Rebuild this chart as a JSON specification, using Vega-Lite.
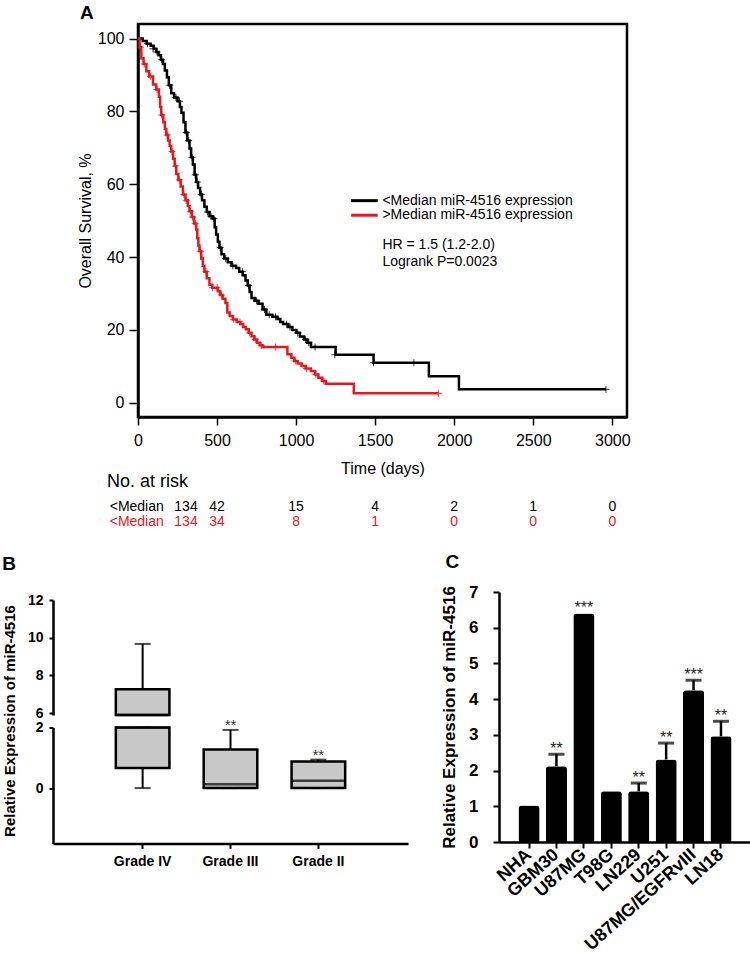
{
  "$schema": "https://vega.github.io/schema/vega-lite/v6.json",
  "padding": {"left": 2, "top": 2, "right": 0, "bottom": 0},
  "background": "white",
  "config": {"font": "Liberation Sans", "view": {"stroke": null}, "axis": {"labelOverlap": false, "labelFlush": false}},
  "datasets": {
    "surv": [
      {"grp": "<Median", "day": 0, "surv": 100}, {"grp": "<Median", "day": 30, "surv": 99.3}, {"grp": "<Median", "day": 55, "surv": 98.6}, {"grp": "<Median", "day": 80, "surv": 98.0}, {"grp": "<Median", "day": 100, "surv": 97.2}, {"grp": "<Median", "day": 116, "surv": 96.3}, {"grp": "<Median", "day": 130, "surv": 95.4}, {"grp": "<Median", "day": 145, "surv": 94.2}, {"grp": "<Median", "day": 158, "surv": 93.0}, {"grp": "<Median", "day": 170, "surv": 91.2}, {"grp": "<Median", "day": 183, "surv": 89.4}, {"grp": "<Median", "day": 195, "surv": 87.2}, {"grp": "<Median", "day": 210, "surv": 85.0}, {"grp": "<Median", "day": 228, "surv": 83.8}, {"grp": "<Median", "day": 250, "surv": 82.8}, {"grp": "<Median", "day": 265, "surv": 81.2}, {"grp": "<Median", "day": 275, "surv": 79.6}, {"grp": "<Median", "day": 288, "surv": 77.0}, {"grp": "<Median", "day": 300, "surv": 74.2}, {"grp": "<Median", "day": 312, "surv": 72.0}, {"grp": "<Median", "day": 326, "surv": 69.8}, {"grp": "<Median", "day": 336, "surv": 67.4}, {"grp": "<Median", "day": 347, "surv": 65.4}, {"grp": "<Median", "day": 358, "surv": 62.6}, {"grp": "<Median", "day": 368, "surv": 60.6}, {"grp": "<Median", "day": 380, "surv": 59.0}, {"grp": "<Median", "day": 393, "surv": 57.2}, {"grp": "<Median", "day": 405, "surv": 55.6}, {"grp": "<Median", "day": 420, "surv": 53.8}, {"grp": "<Median", "day": 435, "surv": 52.4}, {"grp": "<Median", "day": 452, "surv": 51.2}, {"grp": "<Median", "day": 473, "surv": 50.6}, {"grp": "<Median", "day": 485, "surv": 48.2}, {"grp": "<Median", "day": 494, "surv": 46.2}, {"grp": "<Median", "day": 505, "surv": 44.2}, {"grp": "<Median", "day": 515, "surv": 42.6}, {"grp": "<Median", "day": 528, "surv": 40.8}, {"grp": "<Median", "day": 545, "surv": 39.6}, {"grp": "<Median", "day": 568, "surv": 38.6}, {"grp": "<Median", "day": 592, "surv": 37.6}, {"grp": "<Median", "day": 620, "surv": 37.0}, {"grp": "<Median", "day": 640, "surv": 36.0}, {"grp": "<Median", "day": 662, "surv": 35.0}, {"grp": "<Median", "day": 680, "surv": 33.6}, {"grp": "<Median", "day": 694, "surv": 32.2}, {"grp": "<Median", "day": 706, "surv": 30.4}, {"grp": "<Median", "day": 718, "surv": 28.8}, {"grp": "<Median", "day": 738, "surv": 28.0}, {"grp": "<Median", "day": 762, "surv": 27.2}, {"grp": "<Median", "day": 788, "surv": 25.6}, {"grp": "<Median", "day": 812, "surv": 24.2}, {"grp": "<Median", "day": 850, "surv": 23.6}, {"grp": "<Median", "day": 882, "surv": 23.0}, {"grp": "<Median", "day": 900, "surv": 22.2}, {"grp": "<Median", "day": 918, "surv": 21.6}, {"grp": "<Median", "day": 950, "surv": 20.8}, {"grp": "<Median", "day": 976, "surv": 20.0}, {"grp": "<Median", "day": 1000, "surv": 19.2}, {"grp": "<Median", "day": 1024, "surv": 18.2}, {"grp": "<Median", "day": 1050, "surv": 17.4}, {"grp": "<Median", "day": 1071, "surv": 16.5}, {"grp": "<Median", "day": 1094, "surv": 15.3}, {"grp": "<Median", "day": 1250, "surv": 13.2}, {"grp": "<Median", "day": 1490, "surv": 11.0}, {"grp": "<Median", "day": 1840, "surv": 7.3}, {"grp": "<Median", "day": 2030, "surv": 3.7}, {"grp": "<Median", "day": 2960, "surv": 3.7},
      {"grp": ">Median", "day": 0, "surv": 100}, {"grp": ">Median", "day": 10, "surv": 97.6}, {"grp": ">Median", "day": 21, "surv": 94.6}, {"grp": ">Median", "day": 35, "surv": 93.0}, {"grp": ">Median", "day": 53, "surv": 91.0}, {"grp": ">Median", "day": 70, "surv": 89.6}, {"grp": ">Median", "day": 95, "surv": 87.4}, {"grp": ">Median", "day": 115, "surv": 86.0}, {"grp": ">Median", "day": 132, "surv": 84.0}, {"grp": ">Median", "day": 140, "surv": 81.2}, {"grp": ">Median", "day": 147, "surv": 79.0}, {"grp": ">Median", "day": 160, "surv": 77.0}, {"grp": ">Median", "day": 170, "surv": 75.2}, {"grp": ">Median", "day": 179, "surv": 73.5}, {"grp": ">Median", "day": 190, "surv": 72.0}, {"grp": ">Median", "day": 200, "surv": 70.6}, {"grp": ">Median", "day": 210, "surv": 69.0}, {"grp": ">Median", "day": 222, "surv": 67.0}, {"grp": ">Median", "day": 232, "surv": 65.0}, {"grp": ">Median", "day": 242, "surv": 62.8}, {"grp": ">Median", "day": 255, "surv": 61.2}, {"grp": ">Median", "day": 270, "surv": 59.4}, {"grp": ">Median", "day": 284, "surv": 57.2}, {"grp": ">Median", "day": 300, "surv": 55.6}, {"grp": ">Median", "day": 315, "surv": 54.0}, {"grp": ">Median", "day": 326, "surv": 52.6}, {"grp": ">Median", "day": 340, "surv": 51.0}, {"grp": ">Median", "day": 355, "surv": 49.2}, {"grp": ">Median", "day": 368, "surv": 47.6}, {"grp": ">Median", "day": 375, "surv": 45.2}, {"grp": ">Median", "day": 382, "surv": 43.2}, {"grp": ">Median", "day": 389, "surv": 41.6}, {"grp": ">Median", "day": 400, "surv": 39.6}, {"grp": ">Median", "day": 410, "surv": 37.6}, {"grp": ">Median", "day": 420, "surv": 36.0}, {"grp": ">Median", "day": 435, "surv": 34.2}, {"grp": ">Median", "day": 452, "surv": 32.4}, {"grp": ">Median", "day": 470, "surv": 31.6}, {"grp": ">Median", "day": 505, "surv": 30.6}, {"grp": ">Median", "day": 520, "surv": 29.6}, {"grp": ">Median", "day": 536, "surv": 28.6}, {"grp": ">Median", "day": 553, "surv": 27.4}, {"grp": ">Median", "day": 565, "surv": 24.8}, {"grp": ">Median", "day": 580, "surv": 23.8}, {"grp": ">Median", "day": 600, "surv": 22.9}, {"grp": ">Median", "day": 625, "surv": 22.2}, {"grp": ">Median", "day": 647, "surv": 21.6}, {"grp": ">Median", "day": 665, "surv": 20.8}, {"grp": ">Median", "day": 682, "surv": 20.2}, {"grp": ">Median", "day": 700, "surv": 19.2}, {"grp": ">Median", "day": 718, "surv": 18.3}, {"grp": ">Median", "day": 735, "surv": 17.4}, {"grp": ">Median", "day": 753, "surv": 16.5}, {"grp": ">Median", "day": 770, "surv": 15.8}, {"grp": ">Median", "day": 788, "surv": 15.3}, {"grp": ">Median", "day": 945, "surv": 13.3}, {"grp": ">Median", "day": 970, "surv": 12.4}, {"grp": ">Median", "day": 988, "surv": 11.5}, {"grp": ">Median", "day": 1010, "surv": 10.8}, {"grp": ">Median", "day": 1035, "surv": 10.1}, {"grp": ">Median", "day": 1060, "surv": 9.4}, {"grp": ">Median", "day": 1094, "surv": 8.7}, {"grp": ">Median", "day": 1120, "surv": 7.8}, {"grp": ">Median", "day": 1141, "surv": 6.9}, {"grp": ">Median", "day": 1165, "surv": 6.0}, {"grp": ">Median", "day": 1188, "surv": 5.2}, {"grp": ">Median", "day": 1365, "surv": 2.6}, {"grp": ">Median", "day": 1900, "surv": 2.6}
    ],
    "censor": [
      {"grp": "<Median", "day": 60, "surv": 98.6}, {"grp": "<Median", "day": 95, "surv": 97.2}, {"grp": "<Median", "day": 120, "surv": 96.3}, {"grp": "<Median", "day": 150, "surv": 94.2}, {"grp": "<Median", "day": 200, "surv": 87.2}, {"grp": "<Median", "day": 240, "surv": 83.8}, {"grp": "<Median", "day": 262, "surv": 82.8}, {"grp": "<Median", "day": 305, "surv": 74.2}, {"grp": "<Median", "day": 320, "surv": 72.0}, {"grp": "<Median", "day": 342, "surv": 67.4}, {"grp": "<Median", "day": 362, "surv": 62.6}, {"grp": "<Median", "day": 375, "surv": 60.6}, {"grp": "<Median", "day": 400, "surv": 57.2}, {"grp": "<Median", "day": 440, "surv": 52.4}, {"grp": "<Median", "day": 462, "surv": 51.2}, {"grp": "<Median", "day": 480, "surv": 50.6}, {"grp": "<Median", "day": 520, "surv": 42.6}, {"grp": "<Median", "day": 555, "surv": 39.6}, {"grp": "<Median", "day": 600, "surv": 37.6}, {"grp": "<Median", "day": 660, "surv": 36.0}, {"grp": "<Median", "day": 700, "surv": 32.2}, {"grp": "<Median", "day": 750, "surv": 28.0}, {"grp": "<Median", "day": 800, "surv": 25.6}, {"grp": "<Median", "day": 830, "surv": 24.2}, {"grp": "<Median", "day": 870, "surv": 23.6}, {"grp": "<Median", "day": 940, "surv": 21.6}, {"grp": "<Median", "day": 962, "surv": 20.8}, {"grp": "<Median", "day": 1010, "surv": 19.2}, {"grp": "<Median", "day": 1060, "surv": 17.4}, {"grp": "<Median", "day": 1080, "surv": 16.5}, {"grp": "<Median", "day": 1120, "surv": 15.3}, {"grp": "<Median", "day": 1245, "surv": 13.2}, {"grp": "<Median", "day": 1490, "surv": 11.0}, {"grp": "<Median", "day": 1745, "surv": 11.0}, {"grp": "<Median", "day": 2960, "surv": 3.7},
      {"grp": ">Median", "day": 15, "surv": 97.6}, {"grp": ">Median", "day": 40, "surv": 93.0}, {"grp": ">Median", "day": 80, "surv": 89.6}, {"grp": ">Median", "day": 120, "surv": 86.0}, {"grp": ">Median", "day": 150, "surv": 79.0}, {"grp": ">Median", "day": 185, "surv": 73.5}, {"grp": ">Median", "day": 215, "surv": 69.0}, {"grp": ">Median", "day": 238, "surv": 65.0}, {"grp": ">Median", "day": 262, "surv": 61.2}, {"grp": ">Median", "day": 290, "surv": 57.2}, {"grp": ">Median", "day": 305, "surv": 55.6}, {"grp": ">Median", "day": 332, "surv": 52.6}, {"grp": ">Median", "day": 345, "surv": 51.0}, {"grp": ">Median", "day": 362, "surv": 49.2}, {"grp": ">Median", "day": 395, "surv": 41.6}, {"grp": ">Median", "day": 430, "surv": 36.0}, {"grp": ">Median", "day": 472, "surv": 31.6}, {"grp": ">Median", "day": 500, "surv": 31.6}, {"grp": ">Median", "day": 528, "surv": 29.6}, {"grp": ">Median", "day": 605, "surv": 22.9}, {"grp": ">Median", "day": 645, "surv": 22.2}, {"grp": ">Median", "day": 705, "surv": 19.2}, {"grp": ">Median", "day": 742, "surv": 17.4}, {"grp": ">Median", "day": 780, "surv": 15.8}, {"grp": ">Median", "day": 870, "surv": 15.3}, {"grp": ">Median", "day": 995, "surv": 11.5}, {"grp": ">Median", "day": 1065, "surv": 9.4}, {"grp": ">Median", "day": 1125, "surv": 7.8}, {"grp": ">Median", "day": 1175, "surv": 6.0}, {"grp": ">Median", "day": 1900, "surv": 2.6}
    ],
    "risk": [
      {"grp": "<Median", "t": 0, "n": 134}, {"grp": "<Median", "t": 500, "n": 42}, {"grp": "<Median", "t": 1000, "n": 15}, {"grp": "<Median", "t": 1500, "n": 4}, {"grp": "<Median", "t": 2000, "n": 2}, {"grp": "<Median", "t": 2500, "n": 1}, {"grp": "<Median", "t": 3000, "n": 0},
      {"grp": ">Median", "t": 0, "n": 134}, {"grp": ">Median", "t": 500, "n": 34}, {"grp": ">Median", "t": 1000, "n": 8}, {"grp": ">Median", "t": 1500, "n": 1}, {"grp": ">Median", "t": 2000, "n": 0}, {"grp": ">Median", "t": 2500, "n": 0}, {"grp": ">Median", "t": 3000, "n": 0}
    ],
    "box": [
      {"grade": "Grade IV", "min": 0, "q1": 0.66, "median": 4.0, "q3": 7.27, "max": 9.67, "sig": ""},
      {"grade": "Grade III", "min": 0, "q1": 0, "median": 0.13, "q3": 1.27, "max": 1.92, "sig": "**"},
      {"grade": "Grade II", "min": 0, "q1": 0, "median": 0.24, "q3": 0.88, "max": 0.94, "sig": "**"}
    ],
    "cells": [
      {"cell": "NHA", "value": 1.02, "hi": 1.02, "sig": ""},
      {"cell": "GBM30", "value": 2.12, "hi": 2.46, "sig": "**"},
      {"cell": "U87MG", "value": 6.40, "hi": 6.40, "sig": "***"},
      {"cell": "T98G", "value": 1.42, "hi": 1.42, "sig": ""},
      {"cell": "LN229", "value": 1.42, "hi": 1.65, "sig": "**"},
      {"cell": "U251", "value": 2.31, "hi": 2.77, "sig": "**"},
      {"cell": "U87MG/EGFRvIII", "value": 4.25, "hi": 4.53, "sig": "***"},
      {"cell": "LN18", "value": 2.96, "hi": 3.38, "sig": "**"}
    ]
  },
  "vconcat": [
    {
      "hconcat": [
        {"width": 3, "height": 10, "data": {"values": []}, "mark": "point"},
        {
          "width": 489,
          "height": 393,
          "view": {"stroke": "black", "strokeWidth": 2.5},
          "title": {"text": "A", "anchor": "start", "frame": "group", "dx": -58, "fontSize": 19, "fontWeight": "bold", "offset": 1, "color": "black"},
          "layer": [
            {
              "data": {"name": "surv"},
              "mark": {"type": "line", "interpolate": "step-after", "strokeWidth": 2.5},
              "encoding": {
                "x": {"field": "day", "type": "quantitative", "scale": {"domain": [0, 3093], "nice": false, "zero": false},
                  "axis": {"title": "Time (days)", "values": [0, 500, 1000, 1500, 2000, 2500, 3000], "format": "d", "grid": false, "domainColor": "black", "domainWidth": 2.5, "tickColor": "black", "tickWidth": 1.5, "tickSize": 8, "labelFontSize": 16, "labelColor": "black", "labelPadding": 7, "titleFontSize": 16, "titleFontWeight": "normal", "titleColor": "black", "titlePadding": 12}},
                "y": {"field": "surv", "type": "quantitative", "scale": {"domain": [-3.9, 104], "nice": false, "zero": false},
                  "axis": {"title": "Overall Survival, %", "values": [0, 20, 40, 60, 80, 100], "grid": false, "domainColor": "black", "domainWidth": 2.5, "tickColor": "black", "tickWidth": 1.5, "tickSize": 9, "labelFontSize": 16, "labelColor": "black", "labelPadding": 5, "titleFontSize": 16, "titleFontWeight": "normal", "titleColor": "black", "titlePadding": 4}},
                "color": {"field": "grp", "type": "nominal", "scale": {"domain": ["<Median", ">Median"], "range": ["#000000", "#e3191f"]}, "legend": null}
              }
            },
            {
              "data": {"name": "censor"},
              "mark": {"type": "point", "shape": "M-1,0H1M0,-1V1", "size": 50, "filled": false, "strokeWidth": 1, "opacity": 0.8},
              "encoding": {
                "x": {"field": "day", "type": "quantitative"},
                "y": {"field": "surv", "type": "quantitative"},
                "color": {"field": "grp", "type": "nominal"}
              }
            },
            {
              "data": {"values": [{}]},
              "mark": {"type": "rule", "strokeWidth": 3, "color": "black"},
              "encoding": {"x": {"datum": 1348}, "x2": {"datum": 1516}, "y": {"datum": 55.5}}
            },
            {
              "data": {"values": [{}]},
              "mark": {"type": "rule", "strokeWidth": 3, "color": "#e3191f"},
              "encoding": {"x": {"datum": 1348}, "x2": {"datum": 1516}, "y": {"datum": 51.5}}
            },
            {
              "data": {"values": [{}]},
              "mark": {"type": "text", "text": "<Median miR-4516 expression", "align": "left", "baseline": "middle", "fontSize": 14, "color": "black"},
              "encoding": {"x": {"datum": 1546}, "y": {"datum": 55.5}}
            },
            {
              "data": {"values": [{}]},
              "mark": {"type": "text", "text": ">Median miR-4516 expression", "align": "left", "baseline": "middle", "fontSize": 14, "color": "black"},
              "encoding": {"x": {"datum": 1546}, "y": {"datum": 51.5}}
            },
            {
              "data": {"values": [{}]},
              "mark": {"type": "text", "text": "HR = 1.5 (1.2-2.0)", "align": "left", "baseline": "middle", "fontSize": 14, "color": "black"},
              "encoding": {"x": {"datum": 1546}, "y": {"datum": 43.3}}
            },
            {
              "data": {"values": [{}]},
              "mark": {"type": "text", "text": "Logrank P=0.0023", "align": "left", "baseline": "middle", "fontSize": 14, "color": "black"},
              "encoding": {"x": {"datum": 1546}, "y": {"datum": 38.65}}
            },
            {
              "data": {"values": [{}]},
              "mark": {"type": "text", "text": "No. at risk", "align": "left", "baseline": "middle", "fontSize": 18, "color": "black", "clip": false},
              "encoding": {"x": {"datum": -196}, "y": {"datum": -21.75}}
            },
            {
              "data": {"name": "risk"},
              "transform": [{"filter": "datum.grp === '<Median' && datum.t === 0"}],
              "mark": {"type": "text", "text": "<Median", "align": "left", "baseline": "middle", "fontSize": 14, "color": "black"},
              "encoding": {"x": {"datum": -179}, "y": {"datum": -28.6}}
            },
            {
              "data": {"name": "risk"},
              "transform": [{"filter": "datum.grp === '>Median' && datum.t === 0"}],
              "mark": {"type": "text", "text": "<Median", "align": "left", "baseline": "middle", "fontSize": 14, "color": "#e3191f"},
              "encoding": {"x": {"datum": -179}, "y": {"datum": -32.7}}
            },
            {
              "data": {"name": "risk"},
              "transform": [{"filter": "datum.grp === '<Median' && datum.t > 0"}],
              "mark": {"type": "text", "align": "center", "baseline": "middle", "fontSize": 14},
              "encoding": {"x": {"field": "t", "type": "quantitative"}, "y": {"datum": -28.6}, "text": {"field": "n"}, "color": {"field": "grp", "type": "nominal"}}
            },
            {
              "data": {"name": "risk"},
              "transform": [{"filter": "datum.grp === '<Median' && datum.t === 0"}],
              "mark": {"type": "text", "align": "center", "baseline": "middle", "fontSize": 14, "dx": 48},
              "encoding": {"x": {"field": "t", "type": "quantitative"}, "y": {"datum": -28.6}, "text": {"field": "n"}, "color": {"field": "grp", "type": "nominal"}}
            },
            {
              "data": {"name": "risk"},
              "transform": [{"filter": "datum.grp === '>Median' && datum.t > 0"}],
              "mark": {"type": "text", "align": "center", "baseline": "middle", "fontSize": 14},
              "encoding": {"x": {"field": "t", "type": "quantitative"}, "y": {"datum": -32.7}, "text": {"field": "n"}, "color": {"field": "grp", "type": "nominal"}}
            },
            {
              "data": {"name": "risk"},
              "transform": [{"filter": "datum.grp === '>Median' && datum.t === 0"}],
              "mark": {"type": "text", "align": "center", "baseline": "middle", "fontSize": 14, "dx": 48},
              "encoding": {"x": {"field": "t", "type": "quantitative"}, "y": {"datum": -32.7}, "text": {"field": "n"}, "color": {"field": "grp", "type": "nominal"}}
            }
          ]
        }
      ],
      "spacing": 20,
      "resolve": {"scale": {"x": "independent", "y": "independent", "color": "independent"}}
    },
    {
      "hconcat": [
        {
          "title": {"text": "B", "anchor": "start", "fontSize": 19, "fontWeight": "bold", "offset": 18, "color": "black"},
          "vconcat": [
            {"width": 1, "height": 1, "data": {"values": []}, "mark": "point"},
            {
              "vconcat": [
                {
                  "width": 355,
                  "height": 115,
                  "data": {"name": "box"},
                  "transform": [{"filter": "datum.max > 6"}],
                  "encoding": {
                    "x": {"field": "grade", "type": "nominal", "sort": null, "scale": {"domain": ["Grade IV", "Grade III", "Grade II"], "paddingInner": 0, "paddingOuter": 0.52}, "axis": null},
                    "y": {"field": "q1", "type": "quantitative", "scale": {"domain": [5.9, 12], "nice": false, "zero": false, "clamp": true},
                      "axis": {"title": null, "values": [6, 8, 10, 12], "tickCount": 4, "grid": false, "domainColor": "black", "domainWidth": 2.5, "tickColor": "black", "tickWidth": 2, "tickSize": 4, "labelFontSize": 14, "labelFontWeight": "bold", "labelColor": "black", "labelPadding": 6}}
                  },
                  "layer": [
                    {
                      "mark": {"type": "rule", "strokeWidth": 2, "color": "black"},
                      "encoding": {"y": {"field": "min", "type": "quantitative"}, "y2": {"field": "max"}}
                    },
                    {
                      "mark": {"type": "tick", "size": 16, "thickness": 2, "color": "black"},
                      "encoding": {"y": {"field": "max", "type": "quantitative"}}
                    },
                    {
                      "mark": {"type": "bar", "fill": "#c8c8c8", "stroke": "black", "strokeWidth": 2.5, "width": {"band": 0.61}},
                      "encoding": {"y2": {"field": "q3"}}
                    },
                    {
                      "mark": {"type": "tick", "size": 54, "thickness": 2.5, "color": "black"},
                      "encoding": {"y": {"field": "median", "type": "quantitative"}}
                    }
                  ]
                },
                {
                  "width": 355,
                  "height": 116,
                  "data": {"name": "box"},
                  "encoding": {
                    "x": {"field": "grade", "type": "nominal", "sort": null, "scale": {"domain": ["Grade IV", "Grade III", "Grade II"], "paddingInner": 0, "paddingOuter": 0.52},
                      "axis": {"title": null, "labelAngle": 0, "labelFontSize": 14, "labelFontWeight": "bold", "labelColor": "black", "labelPadding": 6, "domainColor": "black", "domainWidth": 2.5, "tickColor": "black", "tickWidth": 2, "tickSize": 5}},
                    "y": {"field": "q1", "type": "quantitative", "scale": {"domain": [-1.83, 2.0], "nice": false, "zero": false, "clamp": true},
                      "axis": {"title": "Relative Expression of miR-4516", "titleFontSize": 15, "titleFontWeight": "bold", "titleColor": "black", "titlePadding": 18, "titleY": -7, "values": [0, 2], "grid": false, "domainColor": "black", "domainWidth": 2.5, "tickColor": "black", "tickWidth": 2, "tickSize": 4, "labelFontSize": 14, "labelFontWeight": "bold", "labelColor": "black", "labelPadding": 6}}
                  },
                  "layer": [
                    {
                      "mark": {"type": "rule", "strokeWidth": 2, "color": "black"},
                      "encoding": {"y": {"field": "min", "type": "quantitative"}, "y2": {"field": "max"}}
                    },
                    {
                      "mark": {"type": "tick", "size": 16, "thickness": 2, "color": "black"},
                      "encoding": {"y": {"field": "max", "type": "quantitative"}}
                    },
                    {
                      "mark": {"type": "tick", "size": 16, "thickness": 2, "color": "black"},
                      "encoding": {"y": {"field": "min", "type": "quantitative"}}
                    },
                    {
                      "mark": {"type": "bar", "fill": "#c8c8c8", "stroke": "black", "strokeWidth": 2.5, "width": {"band": 0.61}},
                      "encoding": {"y2": {"field": "q3"}}
                    },
                    {
                      "mark": {"type": "tick", "size": 54, "thickness": 2.5, "color": "black"},
                      "encoding": {"y": {"field": "median", "type": "quantitative"}}
                    },
                    {
                      "transform": [{"filter": "datum.sig !== ''"}],
                      "mark": {"type": "text", "fontSize": 15, "baseline": "alphabetic", "color": "#333333", "clip": false},
                      "encoding": {"y": {"field": "max", "type": "quantitative"}, "text": {"field": "sig"}}
                    }
                  ]
                }
              ],
              "spacing": 12.5,
              "bounds": "flush",
              "resolve": {"scale": {"x": "independent", "y": "independent"}}
            }
          ],
          "spacing": 0,
          "resolve": {"scale": {"x": "independent", "y": "independent"}}
        },
        {
          "width": 252,
          "height": 250,
          "title": {"text": "C", "anchor": "start", "fontSize": 19, "fontWeight": "bold", "offset": 11, "dx": 5, "color": "black"},
          "data": {"name": "cells"},
          "encoding": {
            "x": {"field": "cell", "type": "nominal", "sort": null, "scale": {"paddingInner": 0.23, "paddingOuter": 0.71},
              "axis": {"title": null, "labelAngle": -42, "labelAlign": "right", "labelBaseline": "middle", "labelFontSize": 18, "labelFontWeight": "bold", "labelColor": "black", "labelPadding": 4, "domainColor": "black", "domainWidth": 2.5, "tickColor": "black", "tickWidth": 2, "tickSize": 6}},
            "y": {"field": "value", "type": "quantitative", "scale": {"domain": [0, 7], "nice": false},
              "axis": {"title": "Relative Expression of miR-4516", "titleFontSize": 17, "titleFontWeight": "bold", "titleColor": "black", "titlePadding": 10, "values": [0, 1, 2, 3, 4, 5, 6, 7], "tickCount": 8, "grid": false, "domainColor": "black", "domainWidth": 2.5, "tickColor": "black", "tickWidth": 2, "tickSize": 6, "labelFontSize": 17, "labelFontWeight": "bold", "labelColor": "black", "labelPadding": 15}}
          },
          "layer": [
            {
              "mark": {"type": "rule", "strokeWidth": 2.5, "color": "black"},
              "encoding": {"y2": {"field": "hi"}}
            },
            {
              "transform": [{"filter": "datum.hi > datum.value"}],
              "mark": {"type": "tick", "size": 16, "thickness": 3, "color": "black"},
              "encoding": {"y": {"field": "hi", "type": "quantitative"}}
            },
            {
              "mark": {"type": "bar", "color": "black", "cornerRadiusEnd": 3}
            },
            {
              "transform": [{"filter": "datum.sig !== ''"}],
              "mark": {"type": "text", "fontSize": 16, "baseline": "alphabetic", "color": "#222222"},
              "encoding": {"y": {"field": "hi", "type": "quantitative"}, "text": {"field": "sig"}}
            }
          ]
        }
      ],
      "spacing": 32,
      "resolve": {"scale": {"x": "independent", "y": "independent"}}
    }
  ],
  "spacing": 22,
  "resolve": {"scale": {"x": "independent", "y": "independent", "color": "independent"}}
}
